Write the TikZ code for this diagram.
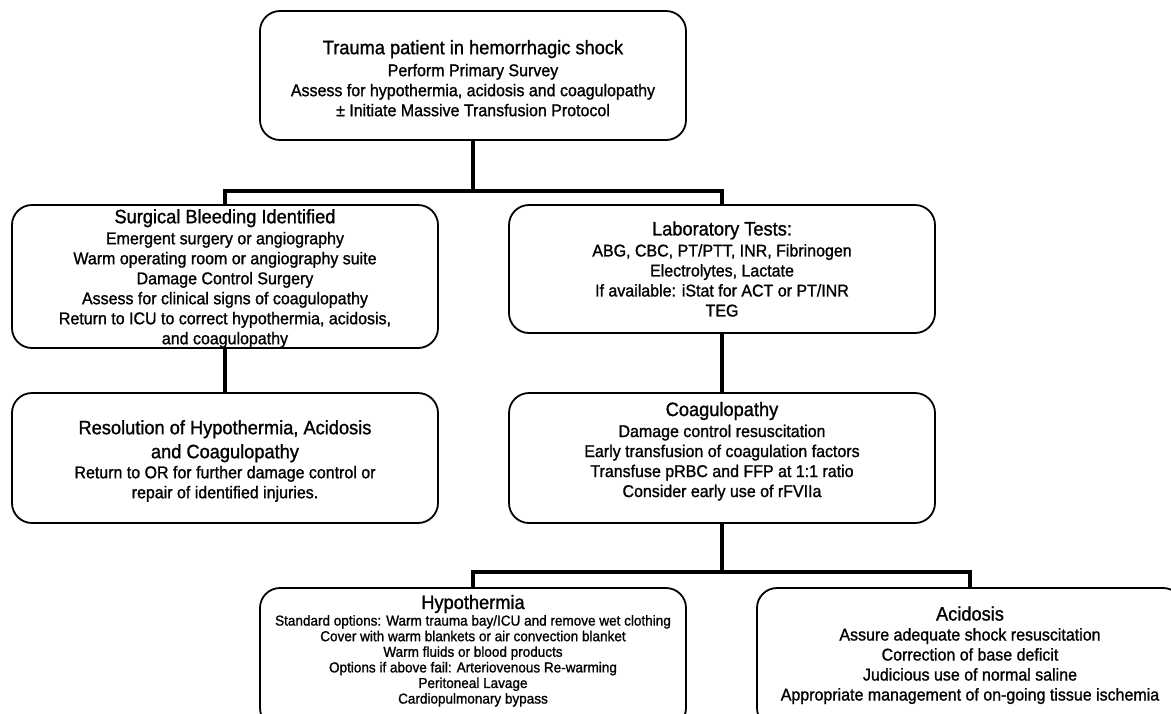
\documentclass[tikz,border=0pt]{standalone}
\usepackage{fontspec}
\setmainfont{Liberation Sans}
\newfontfamily\bodyfam[FakeStretch=0.94,FakeBold=1.2]{Liberation Sans}
\newcommand{\ttl}{\fontsize{19.4}{22}\selectfont}
\newcommand{\txt}{\bodyfam\fontsize{17}{20}\selectfont}
\newcommand{\smalltxt}{\bodyfam\fontsize{14.4}{15.6}\selectfont}
% struts to move a text block down (\sink) or up (\lift) in its box
\newcommand{\sink}[1]{\rule{0pt}{#1}}
\newcommand{\lift}[1]{\rule[-#1]{0pt}{#1}}

\begin{document}
\begin{tikzpicture}[x=1pt,y=1pt,
  box/.style={draw,line width=1.8pt,rounded corners=20pt,minimum width=426pt,
    align=center,inner sep=0pt,font=\txt},
  link/.style={line width=4pt}]
  \useasboundingbox (0,0) rectangle (1171,-713);
  % Top of the chart
  \node[box,minimum height=129pt] (shock) at (473,-75.5)
  {\sink{19.5pt}{\ttl Trauma patient in hemorrhagic shock}\\[2pt] Perform Primary Survey\\
   Assess for hypothermia, acidosis and coagulopathy\\ ± Initiate Massive Transfusion Protocol};
  \coordinate (split1) at (473,-191);
  % Left-hand side part of the chart
  \node[box,minimum height=143pt] (surg) at (225,-276.5)
  {\sink{18pt}{\ttl Surgical Bleeding Identified}\\[1pt] Emergent surgery or angiography\\
   Warm operating room or angiography suite\\ Damage Control Surgery\\
   Assess for clinical signs of coagulopathy\\ Return to ICU to correct hypothermia, acidosis,\\
   and coagulopathy};
  \node[box,minimum height=130pt] (resol) at (225,-458)
  {\sink{20pt}{\ttl Resolution of Hypothermia, Acidosis}\\[4pt] {\ttl and Coagulopathy}\\
   Return to OR for further damage control or\\ repair of identified injuries.};
  % Right-hand side part of the chart
  \node[box,minimum height=128pt] (labs) at (722,-269)
  {{\ttl Laboratory Tests:}\\[1pt] ABG, CBC, PT/PTT, INR, Fibrinogen\\ Electrolytes, Lactate\\
   If available: iStat for ACT or PT/INR\\ TEG};
  \node[box,minimum height=130pt] (coag) at (722,-458)
  {{\ttl Coagulopathy}\\[1pt] Damage control resuscitation\\ Early transfusion of coagulation factors\\
   Transfuse pRBC and FFP at 1:1 ratio\\ Consider early use of rFVIIa\lift{17pt}};
  \coordinate (split2) at (722,-572);
  % Bottom row
  \node[box,minimum height=140pt,font=\smalltxt] (hypo) at (473,-658)
  {{\ttl Hypothermia}\\[1pt] Standard options: Warm trauma bay/ICU and remove wet clothing\\
   Cover with warm blankets or air convection blanket\\ Warm fluids or blood products\\
   Options if above fail: Arteriovenous Re-warming\\ Peritoneal Lavage\\
   Cardiopulmonary bypass\lift{17.5pt}};
  \node[box,minimum height=140pt] (acid) at (970,-658)
  {\sink{17pt}{\ttl Acidosis}\\[0pt] Assure adequate shock resuscitation\\ Correction of base deficit\\
   Judicious use of normal saline\\ Appropriate management of on-going tissue ischemia\lift{12pt}};
  % connectors
  \draw[link] (shock) -- (split1) -| (surg);
  \draw[link] (split1) -| (labs);
  \draw[link] (surg) -- (resol);
  \draw[link] (labs) -- (coag);
  \draw[link] (coag) -- (split2) -| (hypo);
  \draw[link] (split2) -| (acid);
\end{tikzpicture}
\end{document}
